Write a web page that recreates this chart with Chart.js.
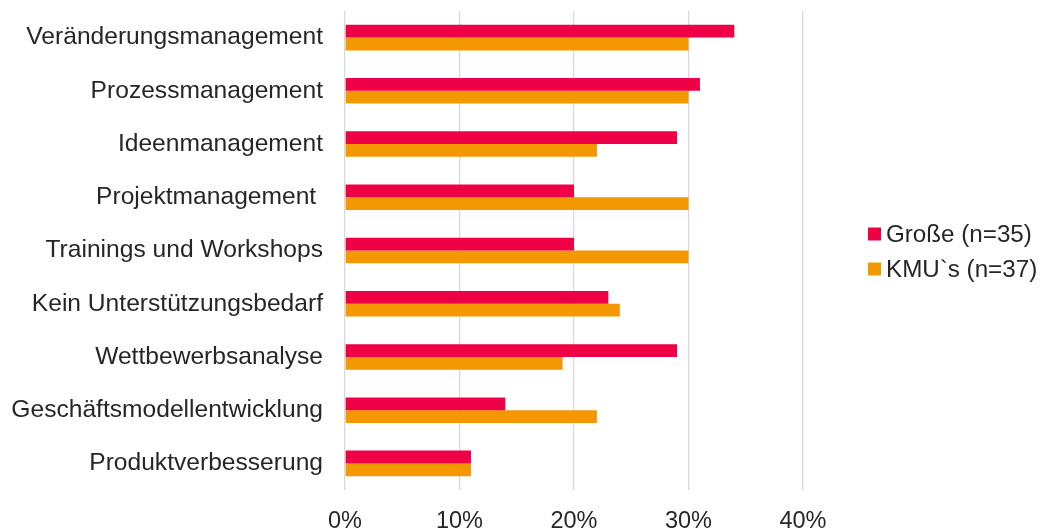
<!DOCTYPE html>
<html>
<head>
<meta charset="utf-8">
<script src="https://cdn.jsdelivr.net/npm/chart.js@4.4.1/dist/chart.umd.min.js"></script>
<style>
  html, body { margin: 0; padding: 0; background: #ffffff; }
  #wrap { width: 1041px; height: 528px; position: relative; }
</style>
</head>
<body>
<div id="wrap"><canvas id="c"></canvas></div>
<script>
const categories = [
  "Veränderungsmanagement",
  "Prozessmanagement",
  "Ideenmanagement",
  "Projektmanagement ",
  "Trainings und Workshops",
  "Kein Unterstützungsbedarf",
  "Wettbewerbsanalyse",
  "Geschäftsmodellentwicklung",
  "Produktverbesserung"
];
const seriesNames = ["Große (n=35)", "KMU`s (n=37)"];
const grosse = [34, 31, 29, 20, 20, 23, 29, 14, 11];
const kmu    = [30, 30, 22, 30, 30, 24, 19, 22, 11];
const xTickValues = [0, 10, 20, 30, 40];

const FONT = "'Liberation Sans', Arial, sans-serif";
const TEXT = "#262626";

const customLegend = {
  id: 'customLegend',
  afterDraw(chart) {
    const ctx = chart.ctx;
    ctx.save();
    ctx.font = "24.2px " + FONT;
    ctx.textBaseline = 'middle';
    ctx.textAlign = 'left';
    const x0 = 868, centers = [234, 269], box = 13;
    chart.data.datasets.forEach((ds, i) => {
      const cy = centers[i];
      ctx.fillStyle = ds.backgroundColor;
      ctx.fillRect(x0, cy - box / 2, box, box);
      ctx.fillStyle = TEXT;
      ctx.fillText(ds.label, x0 + box + 5, cy + 1);
    });
    ctx.restore();
  }
};

new Chart(document.getElementById('c'), {
  type: 'bar',
  data: {
    labels: categories,
    datasets: [
      { label: seriesNames[0], data: grosse, backgroundColor: '#EF0046', barPercentage: 1, categoryPercentage: 0.48 },
      { label: seriesNames[1], data: kmu, backgroundColor: '#F39800', barPercentage: 1, categoryPercentage: 0.48 }
    ]
  },
  options: {
    indexAxis: 'y',
    responsive: true,
    maintainAspectRatio: false,
    animation: false,
    layout: { padding: { top: 11, right: 238, left: 0, bottom: 0 } },
    plugins: {
      legend: { display: false },
      tooltip: { enabled: false }
    },
    scales: {
      x: {
        min: 0, max: 40,
        afterBuildTicks(scale) { scale.ticks = xTickValues.map(v => ({ value: v })); },
        afterFit(scale) { scale.height = 38; scale.paddingLeft = 0; scale.paddingRight = 0; },
        grid: { color: '#d9d9d9', lineWidth: 1.3, drawTicks: false },
        border: { display: false },
        ticks: {
          padding: 17,
          color: TEXT,
          font: { family: FONT, size: 23.5 },
          callback: v => v + '%'
        }
      },
      y: {
        afterFit(scale) { scale.width = 345; scale.paddingTop = 0; scale.paddingBottom = 0; },
        grid: { display: false, drawTicks: false },
        border: { display: false },
        ticks: {
          padding: 22,
          color: TEXT,
          font: { family: FONT, size: 24.6 },
          autoSkip: false
        }
      }
    }
  },
  plugins: [customLegend]
});
</script>
</body>
</html>
